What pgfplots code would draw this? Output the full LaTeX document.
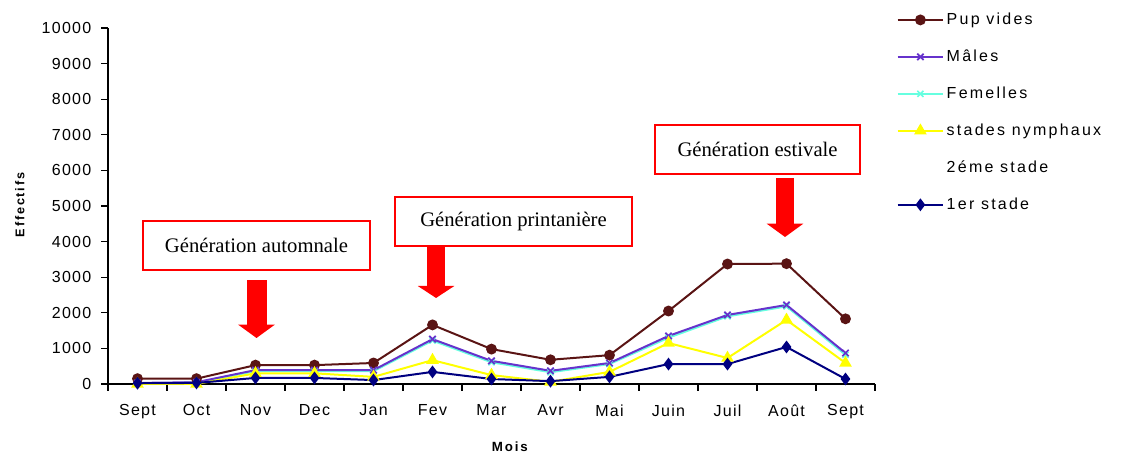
\documentclass[border=0pt]{standalone}
\usepackage{fontspec}
\setmainfont{Liberation Sans}
\newfontfamily\tickfont{Liberation Sans}[LetterSpace=8]
\newfontfamily\legfont{Liberation Sans}[LetterSpace=14]
\newfontfamily\labfont{Liberation Sans}[LetterSpace=14]
\newfontfamily\notefont{Liberation Serif}
\usepackage{pgfplots}
\pgfplotsset{compat=1.18}
\usetikzlibrary{arrows.meta}

\definecolor{pupcol}{HTML}{5A1414}
\definecolor{malcol}{HTML}{6633CC}
\definecolor{femcol}{HTML}{66FFE0}
\definecolor{nymcol}{HTML}{FFFF00}
\definecolor{stcol}{HTML}{000080}
\definecolor{notered}{HTML}{FF0000}

\begin{document}
\begin{tikzpicture}
\useasboundingbox (0pt,0pt) rectangle (855pt,344.25pt);
\begin{axis}[
  at={(81pt,56.25pt)}, anchor=south west,
  scale only axis, width=575.25pt, height=267pt,
  axis lines*=left,
  axis line style={line width=1.1pt, black},
  xmin=-0.5, xmax=12.5, ymin=0, ymax=10000,
  clip=false,
  tick align=outside,
  major tick length=5pt,
  every tick/.style={black, line width=1pt},
  xtick={-0.5,0.5,...,12.5},
  xticklabels={},
  extra x ticks={0,1,...,12},
  extra x tick labels={Sept,Oct,Nov,Dec,Jan,Fev,Mar,Avr,Mai,Juin,Juil,Août,Sept},
  extra x tick style={major tick length=0pt, grid=none},
  ytick={0,1000,...,10000},
  scaled y ticks=false,
  /pgf/number format/.cd, 1000 sep={}, assume math mode=true,
  /pgfplots/.cd,
  tick label style={font=\tickfont\fontsize{12}{14}\selectfont},
  xticklabel style={yshift=-12pt},
  yticklabel style={xshift=-4pt},
  xlabel={Mois},
  ylabel={Effectifs},
  xlabel style={font=\labfont\bfseries\fontsize{10}{12}\selectfont,
    at={(axis description cs:0.524,-0.177)}, anchor=center},
  ylabel style={font=\labfont\bfseries\fontsize{9.5}{11}\selectfont,
    at={(axis description cs:-0.115,0.503)}, anchor=center, rotate=0},
  legend style={draw=none, fill=none,
    at={(axis description cs:1.028,1.05)}, anchor=north west,
    font=\legfont\fontsize{12}{14}\selectfont,
    row sep=13.5pt, inner sep=0pt},
  legend cell align=left,
  legend image code/.code={%
    \draw[mark repeat=2, mark phase=2, #1]
      plot coordinates {(0pt,0pt) (17pt,0pt) (34pt,0pt)};},
  every axis plot/.append style={line width=1.5pt},
]
\addplot[pupcol, mark=*, mark size=3.3pt, mark options={fill=pupcol}]
  coordinates {(0,150) (1,150) (2,530) (3,530) (4,590) (5,1660) (6,980)
               (7,680) (8,810) (9,2050) (10,3370) (11,3380) (12,1830)};
\addlegendentry{Pup vides}
% Femelles drawn first so that the Mâles line sits on top of it
\addplot[femcol, mark=x, mark size=3.2pt, mark options={line width=1.2pt}, forget plot]
  coordinates {(0,20) (1,40) (2,360) (3,360) (4,360) (5,1220) (6,610)
               (7,330) (8,560) (9,1300) (10,1900) (11,2180) (12,820)};
\addplot[malcol, mark=x, mark size=3.4pt, mark options={line width=1.3pt}]
  coordinates {(0,30) (1,50) (2,390) (3,390) (4,390) (5,1260) (6,650)
               (7,370) (8,590) (9,1350) (10,1940) (11,2220) (12,870)};
\addlegendentry{Mâles}
\addlegendimage{femcol, line width=1.5pt, mark=x, mark size=3.2pt, mark options={line width=1.2pt}}
\addlegendentry{Femelles}
\addplot[nymcol, mark=triangle*, mark size=4pt, mark options={fill=nymcol}]
  coordinates {(0,0) (1,0) (2,300) (3,300) (4,200) (5,670) (6,250)
               (7,60) (8,340) (9,1150) (10,730) (11,1800) (12,590)};
\addlegendentry{stades nymphaux}
\addlegendimage{empty legend}
\addlegendentry{2éme stade}
\addplot[stcol, mark=diamond*, mark size=3.6pt, mark options={fill=stcol}]
  coordinates {(0,20) (1,30) (2,170) (3,170) (4,110) (5,340) (6,140)
               (7,80) (8,200) (9,560) (10,560) (11,1040) (12,140)};
\addlegendentry{1er stade}

% generation annotations
\node[draw=notered, line width=1.1pt, fill=white, minimum width=170pt,
  minimum height=36.75pt, font=\notefont\fontsize{15.5}{17}\selectfont]
  at (axis cs:2.017,3890) {Génération automnale};
\node[draw=notered, line width=1.1pt, fill=white, minimum width=177.75pt,
  minimum height=36.75pt, font=\notefont\fontsize{15.5}{17}\selectfont]
  at (axis cs:6.373,4565) {Génération printanière};
\node[draw=notered, line width=1.1pt, fill=white, minimum width=153.75pt,
  minimum height=36.75pt, font=\notefont\fontsize{15.5}{17}\selectfont]
  at (axis cs:10.51,6587) {Génération estivale};
\draw[notered, line width=15pt, -{Triangle[width=27pt, length=10pt]}]
  (axis cs:2.017,2921) -- (axis cs:2.017,1292);
\draw[notered, line width=14pt, -{Triangle[width=27pt, length=9pt]}]
  (axis cs:5.06,3848) -- (axis cs:5.06,2416);
\draw[notered, line width=14pt, -{Triangle[width=27pt, length=10pt]}]
  (axis cs:10.975,5787) -- (axis cs:10.975,4129);
\end{axis}
\end{tikzpicture}
\end{document}
